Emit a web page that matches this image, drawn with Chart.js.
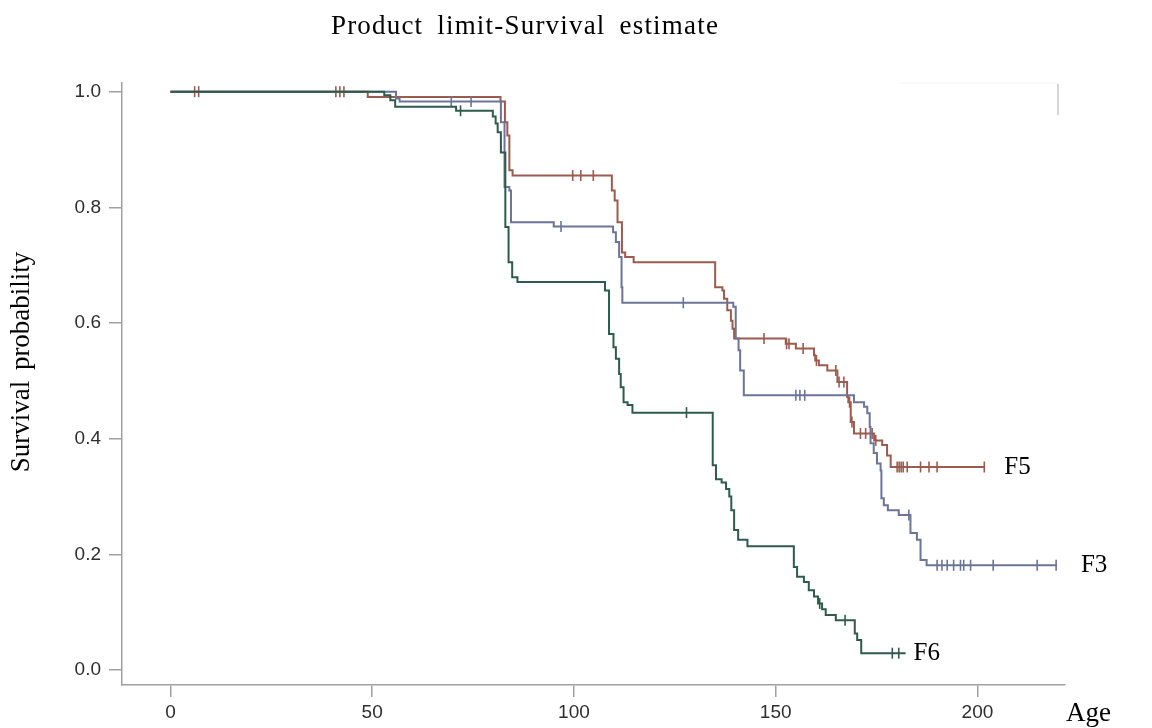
<!DOCTYPE html>
<html>
<head>
<meta charset="utf-8">
<script src="https://cdn.jsdelivr.net/npm/chart.js@4/dist/chart.umd.min.js"></script>
<style>
  html, body { margin: 0; padding: 0; background: #fff; }
  #wrap { width: 1152px; height: 728px; position: relative; }
</style>
</head>
<body>
<div id="wrap"><canvas id="c" width="1152" height="728"></canvas></div>
<script>
// ---- Data ----
const chartTitle = "Product limit-Survival estimate";
const xAxisLabel = "Age";
const yAxisLabel = "Survival probability";
const xTicks = [0, 50, 100, 150, 200];
const yTicks = [0.0, 0.2, 0.4, 0.6, 0.8, 1.0];
const seriesNames = ["F5", "F3", "F6"];

// F5: event times and survival after each step (last entry = end of follow-up)
const f5Times = [0, 48.9, 81.8, 82.9, 83.5, 84.0, 84.8, 109.4, 110.1, 110.8, 111.9, 112.7, 114.8,
  135.0, 136.8, 137.2, 138.0, 138.9, 139.3, 139.7, 152.5, 155.0, 159.5, 159.8, 160.7, 162.8,
  165.3, 167.7, 168.0, 168.6, 169.4, 174.4, 176.4, 177.6, 178.5, 201.7];
const f5Surv = [1.0, 0.991, 0.983, 0.947, 0.924, 0.864, 0.855, 0.829, 0.812, 0.774, 0.722, 0.714, 0.705,
  0.662, 0.656, 0.642, 0.622, 0.604, 0.590, 0.573, 0.564, 0.556, 0.544, 0.535, 0.527, 0.518,
  0.498, 0.472, 0.463, 0.429, 0.409, 0.397, 0.389, 0.371, 0.351, 0.351];
const f5Censor = [6.0, 7.0, 41.0, 42.0, 43.0, 99.7, 101.7, 104.8, 147.1, 152.7, 153.3, 156.8, 160.1,
  164.9, 165.7, 166.9, 168.3, 168.9, 171.0, 172.3, 173.9, 174.8, 180.1, 180.6, 181.1, 181.6,
  182.6, 185.9, 188.0, 190.0, 201.7];

// F3
const f3Times = [0, 55.9, 56.8, 81.9, 82.8, 84.0, 84.4, 95.0, 109.7, 110.4, 111.2, 111.8, 112.0,
  139.5, 140.1, 140.8, 141.2, 142.1, 169.4, 171.9, 172.7, 173.3, 173.5, 174.3, 175.1, 176.0,
  176.2, 176.8, 177.8, 180.5, 183.4, 185.0, 185.9, 187.4, 219.7];
const f3Surv = [1.0, 0.988, 0.983, 0.947, 0.835, 0.829, 0.774, 0.767, 0.757, 0.740, 0.714, 0.662, 0.635,
  0.628, 0.573, 0.553, 0.518, 0.475, 0.463, 0.455, 0.444, 0.420, 0.392, 0.375, 0.357, 0.345,
  0.297, 0.285, 0.276, 0.268, 0.237, 0.225, 0.190, 0.181, 0.181];
const f3Censor = [69.6, 74.5, 96.8, 127.1, 155.0, 156.0, 157.2, 183.0, 190.0, 191.2, 192.5, 194.1,
  195.8, 196.6, 198.3, 203.9, 214.8, 219.5];

// F6
const f6Times = [0, 53.0, 54.5, 55.7, 70.8, 79.9, 80.6, 81.1, 81.9, 83.0, 83.8, 84.7, 86.0,
  107.7, 108.7, 109.8, 110.4, 111.2, 111.6, 112.3, 113.3, 114.5,
  134.4, 135.2, 136.6, 137.7, 138.5, 139.0, 139.7, 140.7, 143.0,
  154.5, 155.3, 157.0, 158.2, 159.5, 160.5, 161.5, 162.4, 164.9, 169.6, 170.2, 171.2, 182.2];
const f6Surv = [1.0, 0.994, 0.985, 0.974, 0.967, 0.957, 0.945, 0.930, 0.895, 0.766, 0.705, 0.679, 0.671,
  0.656, 0.581, 0.558, 0.538, 0.512, 0.489, 0.463, 0.458, 0.445,
  0.354, 0.330, 0.324, 0.313, 0.300, 0.276, 0.242, 0.225, 0.214,
  0.178, 0.161, 0.152, 0.138, 0.127, 0.115, 0.105, 0.095, 0.086, 0.063, 0.052, 0.029, 0.029];
const f6Censor = [71.9, 127.9, 160.9, 167.2, 178.9, 180.5];

const colF5 = "#9c5b4f";
const colF3 = "#6c7498";
const colF6 = "#2f5b4b";

// ---- helpers ----
function stepPoints(times, surv) {
  return times.map((t, i) => ({ x: t, y: surv[i] }));
}
function survAt(times, surv, t) {
  let v = surv[0];
  for (let i = 0; i < times.length; i++) { if (times[i] <= t) v = surv[i]; }
  return v;
}
function censorPoints(cens, times, surv) {
  return cens.map(t => ({ x: t, y: survAt(times, surv, t) }));
}

// pick a narrow sans for tick labels if installed
function fontAvailable(name) {
  const c = document.createElement("canvas").getContext("2d");
  const s = "0.123456789 200";
  c.font = "40px monospace"; const a = c.measureText(s).width;
  c.font = "40px '" + name + "', monospace"; const b = c.measureText(s).width;
  return Math.abs(a - b) > 0.5;
}
const hasNarrow = fontAvailable("Liberation Sans Narrow");
const tickFont = hasNarrow
  ? { family: "'Liberation Sans Narrow', 'Liberation Sans', Arial, sans-serif", size: 21 }
  : { family: "'Liberation Sans', Arial, sans-serif", size: 19 };

const series = [
  { name: seriesNames[0], times: f5Times, surv: f5Surv, cens: f5Censor, color: colF5, dx: 20 },
  { name: seriesNames[1], times: f3Times, surv: f3Surv, cens: f3Censor, color: colF3, dx: 24 },
  { name: seriesNames[2], times: f6Times, surv: f6Surv, cens: f6Censor, color: colF6, dx: 8 }
];

const datasets = [];
series.forEach((s, k) => {
  datasets.push({
    label: s.name,
    data: stepPoints(s.times, s.surv),
    borderColor: s.color,
    backgroundColor: s.color,
    borderWidth: 2,
    stepped: true,
    pointRadius: 0,
    fill: false,
    order: 3 - k
  });
  datasets.push({
    label: s.name + " censored",
    type: "scatter",
    data: censorPoints(s.cens, s.times, s.surv),
    borderColor: s.color,
    backgroundColor: s.color,
    pointStyle: "line",
    rotation: 90,
    pointRadius: 5.5,
    pointBorderWidth: 1.6,
    showLine: false,
    order: 3 - k
  });
});

const serif = "'Liberation Serif', 'Times New Roman', serif";
function drawText(ctx, text, x, y, size, align, wordSpacing, letterSpacing) {
  ctx.save();
  ctx.font = size + "px " + serif;
  ctx.textAlign = align;
  ctx.textBaseline = "middle";
  if ("wordSpacing" in ctx) ctx.wordSpacing = (wordSpacing || 0) + "px";
  if ("letterSpacing" in ctx) ctx.letterSpacing = (letterSpacing || 0) + "px";
  ctx.fillText(text, x, y);
  ctx.restore();
}

const textPlugin = {
  id: "texts",
  afterDraw(chart) {
    const ctx = chart.ctx;
    const xs = chart.scales.x, ys = chart.scales.y;
    ctx.save();
    ctx.fillStyle = "#000";
    // main title
    drawText(ctx, chartTitle, 525, 27, 27, "center", 6, 1.2);
    // x axis label
    drawText(ctx, xAxisLabel, 1066, 714, 27, "left", 0, 0);
    // y axis label (rotated)
    ctx.save();
    ctx.translate(22, 362);
    ctx.rotate(-Math.PI / 2);
    drawText(ctx, yAxisLabel, 0, 0, 27, "center", 4, 0);
    ctx.restore();
    // series labels at the end of each curve
    series.forEach(s => {
      const n = s.times.length - 1;
      const px = xs.getPixelForValue(s.times[n]) + s.dx;
      const py = ys.getPixelForValue(s.surv[n]);
      drawText(ctx, s.name, px, py, 25, "left", 0, 0);
    });
    // faint remnant frame at top right
    ctx.strokeStyle = "#d6d6d6";
    ctx.lineWidth = 2;
    ctx.beginPath();
    ctx.moveTo(1058, 84); ctx.lineTo(1058, 115);
    ctx.stroke();
    ctx.strokeStyle = "#f2f2f2";
    ctx.lineWidth = 1;
    ctx.beginPath();
    ctx.moveTo(900, 83); ctx.lineTo(1058, 83);
    ctx.stroke();
    ctx.restore();
  }
};

const axisGray = "#a0a0a0";
new Chart(document.getElementById("c"), {
  type: "line",
  data: { datasets },
  options: {
    responsive: false,
    animation: false,
    events: [],
    layout: { padding: { top: 83, right: 87, left: 0, bottom: 0 } },
    plugins: { legend: { display: false }, title: { display: false }, tooltip: { enabled: false } },
    scales: {
      x: {
        type: "linear",
        min: -12,
        max: 221.7,
        afterBuildTicks: (sc) => { sc.ticks = xTicks.map(v => ({ value: v })); },
        afterFit: (sc) => { sc.height = 43; },
        ticks: {
          callback: (v) => String(v),
          font: tickFont,
          color: "#2e2e2e",
          padding: 4,
          maxRotation: 0
        },
        grid: { drawOnChartArea: false, drawTicks: true, tickLength: 12, color: axisGray, lineWidth: 1.5 },
        border: { display: true, color: axisGray, width: 1.5 }
      },
      y: {
        type: "linear",
        min: -0.026,
        max: 1.015,
        afterBuildTicks: (sc) => { sc.ticks = yTicks.map(v => ({ value: v })); },
        afterFit: (sc) => { sc.width = 122; },
        ticks: {
          callback: (v) => Number(v).toFixed(1),
          font: tickFont,
          color: "#2e2e2e",
          padding: 8
        },
        title: { display: false },
        grid: { drawOnChartArea: false, drawTicks: true, tickLength: 13, color: axisGray, lineWidth: 1.5 },
        border: { display: true, color: axisGray, width: 1.5 }
      }
    }
  },
  plugins: [textPlugin]
});
</script>
</body>
</html>
